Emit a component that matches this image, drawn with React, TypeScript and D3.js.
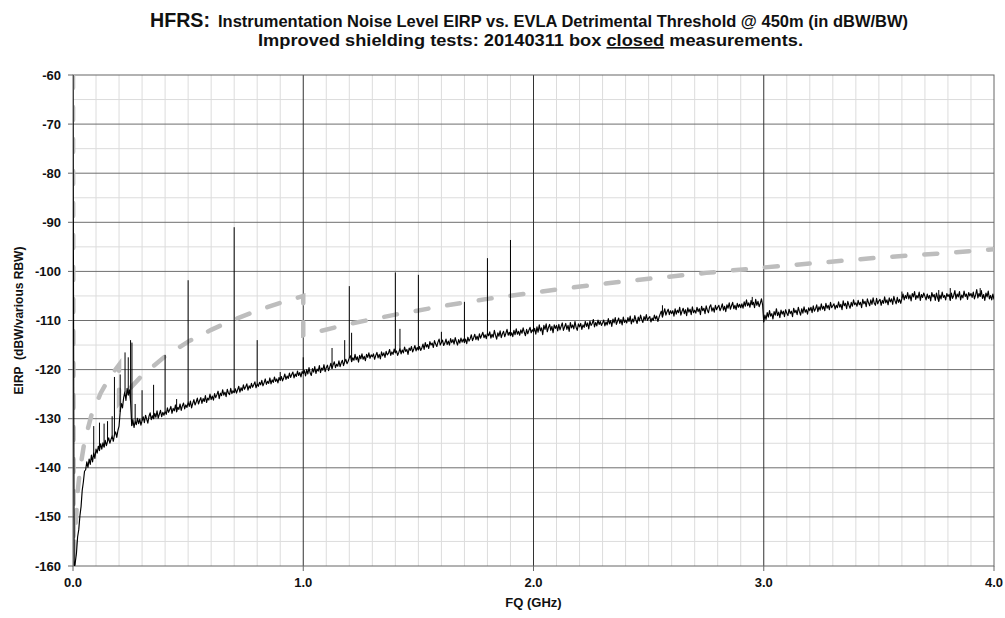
import React from 'react';
import * as d3 from 'd3';

const W = 1005;
const H = 618;

const titleLead = 'HFRS:';
const titleRest = 'Instrumentation Noise Level EIRP vs. EVLA Detrimental Threshold @ 450m (in dBW/BW)';
const subtitlePre = 'Improved shielding tests: 20140311 box ';
const subtitleUnderlined = 'closed';
const subtitlePost = ' measurements.';
const xAxisTitle = 'FQ (GHz)';
const yAxisTitle = 'EIRP  (dBW/various RBW)';

const xTickValues = [0, 1, 2, 3, 4];
const xTickLabels = ['0.0', '1.0', '2.0', '3.0', '4.0'];
const yTickValues = [-60, -70, -80, -90, -100, -110, -120, -130, -140, -150, -160];

// measured noise trace: leading point, then one value every 0.005 GHz from 0.005 to 4.000 GHz
const traceLeadFreqs = [0];
const traceLeadValues = [-60];
const traceStep = 0.005;
const traceValues = [
  -161, -159.2, -157.4, -154.1, -152.6, -149.8, -147.9, -144.6, -142.9, -140.7, -140.4, -138.8, -139.9, -138.2, -139.3, -137.4, -138.8, -136.9, -138.1, -136.2,
  -137.0, -135.6, -136.5, -135.1, -136.2, -134.9, -135.8, -134.4, -135.5, -134.6, -133.9, -135.0, -134.2, -133.5, -134.6, -133.3, -132.7, -133.8, -132.4, -131.5,
  -128.6, -126.9, -127.8, -125.7, -124.6, -126.3, -123.8, -125.2, -124.1, -126.5, -131.4, -130.2, -131.8, -130.5, -131.2, -129.9, -131.0, -130.1, -131.3, -130.4,
  -129.6, -130.8, -129.3, -130.1, -130.9, -129.5, -128.8, -130.2, -129.4, -130.0, -128.9, -129.7, -128.4, -129.9, -129.1, -128.3, -129.6, -128.7, -129.3, -128.5,
  -129.1, -127.8, -128.7, -128.2, -127.5, -128.9, -127.9, -128.4, -127.2, -128.6, -127.7, -128.1, -127.0, -128.3, -127.4, -126.8, -128.0, -127.2, -127.7, -126.6,
  -127.5, -126.4, -127.8, -126.9, -126.1, -127.2, -126.6, -125.8, -127.0, -126.3, -125.7, -126.9, -125.9, -126.5, -125.3, -126.7, -125.8, -126.2, -125.0, -126.1,
  -125.4, -126.2, -124.9, -125.7, -125.1, -124.4, -125.9, -124.8, -125.3, -124.1, -125.2, -124.6, -125.5, -124.0, -124.8, -125.1, -123.8, -124.9, -124.3, -124.7,
  -123.9, -124.8, -124.1, -123.4, -124.6, -123.7, -124.3, -123.1, -124.0, -123.5, -122.9, -124.2, -123.3, -123.8, -122.8, -123.6, -123.1, -122.5, -123.7, -122.9,
  -123.4, -122.6, -123.1, -122.2, -123.3, -122.7, -121.9, -123.0, -122.4, -122.8, -121.7, -122.9, -122.1, -122.6, -121.5, -122.4, -121.9, -122.7, -121.6, -122.2,
  -121.4, -122.3, -121.7, -120.9, -122.0, -121.3, -121.8, -120.7, -121.6, -121.0, -120.5, -121.7, -120.9, -121.4, -120.3, -121.2, -120.6, -121.5, -120.4, -120.8,
  -120.2, -121.3, -120.0, -120.9, -119.6, -120.7, -121.2, -119.8, -120.5, -119.4, -120.8, -119.9, -120.3, -119.2, -120.6, -119.7, -120.1, -119.0, -120.4, -119.6,
  -119.1, -120.2, -119.5, -118.7, -119.8, -119.0, -118.4, -119.6, -118.9, -119.3, -118.2, -119.4, -118.6, -118.1, -119.2, -118.4, -117.9, -118.8, -118.3, -117.6,
  -117.2, -118.4, -117.6, -118.1, -116.9, -118.0, -117.4, -118.5, -117.1, -117.8, -116.8, -117.9, -117.3, -118.2, -116.9, -117.5, -116.6, -117.7, -117.0, -117.4,
  -116.8, -117.9, -117.1, -116.5, -117.6, -116.9, -117.8, -116.4, -117.2, -116.6, -117.5, -116.3, -117.0, -116.7, -115.9, -117.1, -116.4, -116.9, -115.8, -116.6,
  -116.2, -117.1, -116.5, -115.7, -116.8, -116.0, -116.6, -115.4, -116.3, -115.9, -116.9, -115.6, -116.1, -115.3, -116.4, -115.8, -115.1, -116.2, -115.5, -116.0,
  -115.3, -116.1, -115.6, -114.8, -115.9, -114.5, -115.4, -114.9, -115.7, -114.3, -115.0, -114.6, -115.5, -114.1, -114.8, -115.3, -114.4, -113.8, -115.0, -114.5,
  -114.0, -115.1, -114.6, -113.8, -114.9, -114.2, -115.0, -113.7, -114.5, -113.9, -114.8, -113.5, -114.3, -115.0, -113.9, -114.6, -113.6, -114.4, -113.8, -114.5,
  -113.8, -114.7, -113.4, -114.2, -113.7, -112.9, -114.1, -113.5, -112.8, -113.9, -113.2, -114.0, -112.7, -113.6, -113.0, -112.4, -113.5, -112.9, -113.7, -112.6,
  -113.1, -112.3, -113.6, -112.8, -113.4, -112.0, -113.0, -113.8, -112.5, -113.2, -112.1, -113.5, -112.7, -112.2, -113.3, -112.6, -111.8, -113.0, -112.4, -113.1,
  -112.5, -113.3, -112.0, -112.9, -111.7, -112.8, -112.2, -113.0, -111.9, -112.6, -111.5, -112.4, -113.1, -111.8, -112.7, -112.0, -111.4, -112.5, -111.9, -112.3,
  -111.6, -112.8, -111.3, -112.4, -110.9, -112.1, -111.5, -112.9, -111.0, -111.8, -110.7, -112.3, -111.4, -110.8, -112.0, -111.2, -112.5, -110.9, -111.6, -111.0,
  -112.1, -110.8, -111.9, -111.2, -110.5, -112.0, -111.3, -110.6, -111.8, -111.0, -112.2, -110.4, -111.5, -110.9, -111.7, -110.2, -111.4, -112.0, -110.7, -111.3,
  -110.6, -111.8, -110.9, -111.4, -110.2, -111.2, -110.5, -111.7, -110.1, -111.0, -110.6, -109.8, -111.3, -110.4, -111.1, -109.9, -110.8, -110.2, -111.0, -110.5,
  -109.9, -111.1, -110.3, -110.9, -109.6, -110.7, -110.0, -111.2, -109.7, -110.5, -109.4, -110.8, -110.1, -109.5, -110.6, -109.8, -110.9, -109.3, -110.4, -109.9,
  -110.5, -109.4, -110.2, -109.1, -110.7, -109.7, -110.3, -109.0, -109.9, -110.6, -109.3, -110.1, -108.9, -109.8, -110.4, -109.2, -109.9, -108.8, -110.0, -109.5,
  -109.2, -110.3, -109.5, -110.0, -108.9, -109.7, -109.1, -110.2, -109.4, -108.7, -108.1, -109.3, -108.5, -107.6, -108.9, -108.2, -107.7, -108.8, -108.0, -108.6,
  -108.0, -109.1, -107.6, -108.7, -107.9, -108.4, -107.3, -108.9, -108.1, -107.5, -108.6, -107.8, -109.0, -107.4, -108.3, -107.7, -108.8, -107.2, -108.4, -107.9,
  -108.5, -107.3, -108.2, -107.6, -108.8, -107.1, -108.0, -107.5, -108.6, -107.0, -107.9, -108.4, -107.2, -106.8, -108.1, -107.4, -108.3, -106.9, -107.8, -107.3,
  -106.9, -108.0, -107.4, -106.6, -107.9, -107.1, -108.2, -106.8, -107.5, -106.4, -107.7, -107.0, -106.3, -107.6, -106.9, -107.8, -106.5, -107.3, -106.7, -107.4,
  -106.6, -107.5, -106.2, -107.1, -105.8, -107.0, -106.4, -107.3, -105.9, -106.8, -106.3, -107.4, -105.7, -106.9, -106.1, -107.2, -106.5, -105.6, -106.8, -110.3,
  -108.9, -109.8, -108.4, -109.3, -108.0, -109.1, -108.6, -109.7, -108.2, -108.9, -107.6, -109.0, -108.3, -109.4, -107.9, -108.7, -108.1, -109.2, -107.8, -108.5,
  -109.0, -107.7, -108.6, -108.1, -109.2, -107.5, -108.4, -107.9, -108.8, -107.3, -108.2, -108.9, -107.6, -108.5, -107.2, -108.3, -107.8, -108.7, -107.4, -108.0,
  -107.3, -108.4, -107.0, -108.1, -107.6, -106.8, -108.2, -107.2, -107.9, -106.6, -107.7, -107.1, -108.0, -106.5, -107.5, -106.9, -107.8, -106.3, -107.4, -107.0,
  -106.6, -107.7, -106.9, -107.4, -106.2, -107.3, -106.7, -107.8, -106.0, -107.0, -106.5, -107.6, -106.1, -106.9, -107.5, -106.3, -107.1, -105.8, -106.8, -106.4,
  -107.1, -105.9, -106.8, -106.3, -107.4, -105.7, -106.6, -106.1, -107.2, -105.6, -106.4, -107.0, -105.8, -106.7, -105.4, -106.5, -106.9, -105.5, -106.6, -106.0,
  -105.7, -106.9, -105.9, -106.5, -105.2, -106.4, -105.8, -106.8, -105.4, -106.2, -105.6, -106.7, -105.1, -106.0, -106.6, -105.3, -106.3, -105.7, -106.5, -105.5,
  -104.6, -105.8, -104.9, -105.5, -104.3, -105.6, -104.8, -106.0, -104.5, -105.2, -104.1, -105.7, -104.9, -105.4, -104.2, -105.9, -104.7, -105.3, -104.4, -105.1,
  -105.8, -104.6, -105.5, -104.9, -106.0, -104.3, -105.2, -104.7, -105.9, -104.4, -105.4, -106.1, -104.8, -105.6, -104.2, -105.3, -104.9, -105.8, -104.5, -105.1,
  -104.7, -105.9, -104.4, -105.5, -104.9, -103.9, -105.6, -104.6, -105.2, -104.1, -105.8, -104.8, -105.4, -104.0, -105.1, -104.6, -105.7, -104.3, -105.0, -104.5,
  -105.3, -104.2, -105.6, -104.8, -103.7, -105.4, -104.5, -105.1, -103.9, -105.5, -104.7, -105.9, -104.4, -105.2, -104.0, -105.6, -104.9, -105.8, -104.6, -105.7,
];

// narrow spurious lines in the measurement (GHz, peak dBW)
const spikeFreqs = [0.09, 0.115, 0.135, 0.15, 0.17, 0.18, 0.205, 0.226, 0.24, 0.25, 0.256, 0.27, 0.30, 0.35, 0.40, 0.45, 0.50, 0.70, 0.80, 0.90, 1.00, 1.125, 1.18, 1.20, 1.21, 1.40, 1.42, 1.50, 1.60, 1.70, 1.80, 1.90, 2.00, 2.56, 2.95, 3.60, 3.76, 3.81, 3.94];
const spikePeaks = [-131.5, -130.8, -131, -130.5, -129.5, -121.5, -121, -116.5, -117.5, -114, -114.5, -127, -124.2, -123.1, -117, -126, -101.8, -91, -114, -120.5, -117.5, -115.6, -114, -103, -112.5, -100.2, -111.7, -100.7, -112.3, -106.2, -97.3, -93.6, -100, -106.9, -105.2, -104.1, -103.8, -103.4, -103.4];

// EVLA detrimental threshold (dashed)
const threshFreqs = [0, 0.003, 0.005, 0.01, 0.02, 0.03, 0.05, 0.08, 0.12, 0.16, 0.2, 0.2, 0.25, 0.3, 0.4, 0.5, 0.6, 0.7, 0.8, 0.9, 1.0, 1.0, 1.2, 1.4, 1.6, 1.8, 2.0, 2.25, 2.5, 2.75, 3.0, 3.25, 3.5, 3.75, 4.0];
const threshValues = [-60, -161, -159, -152.8, -145, -140.5, -134.6, -129.3, -124.8, -121.5, -119, -126.7, -123.7, -121.2, -117.3, -114.3, -111.9, -109.8, -108, -106.4, -105, -113, -110.7, -108.8, -107.1, -105.6, -104.3, -102.8, -101.5, -100.3, -99.2, -98.2, -97.2, -96.4, -95.5];

const PL = 73, PR = 994, PT = 75, PB = 566;

export default function App() {
  const x = d3.scaleLinear().domain([0, 4]).range([PL, PR]);
  const y = d3.scaleLinear().domain([-160, -60]).range([PB, PT]);

  const tracePts: [number, number][] = [
    ...traceLeadFreqs.map((f, i) => [f, traceLeadValues[i]] as [number, number]),
    ...traceValues.map((v, i) => [(i + 1) * traceStep, v] as [number, number]),
  ];
  const threshPts: [number, number][] = threshFreqs.map((f, i) => [f, threshValues[i]]);

  const line = d3.line<[number, number]>().x((d) => x(d[0])).y((d) => y(d[1]));

  const minorX = d3.range(1, 40).filter((i) => i % 10 !== 0).map((i) => i / 10);
  const majorX = [1, 2, 3];
  const minorY = d3.range(-155, -60, 10);
  const majorY = d3.range(-150, -60, 10);

  const baseAt = (f: number) => {
    const idx = Math.max(0, Math.min(traceValues.length - 1, Math.round(f / traceStep) - 1));
    return traceValues[idx];
  };

  const font = '"Liberation Sans", Arial, sans-serif';
  const titleFont = '"Liberation Sans Narrow", "Liberation Sans", Arial, sans-serif';

  return (
    <svg width={W} height={H} style={{ position: 'absolute', left: 0, top: 0, background: '#fff' }} fontFamily={font}>
      <defs>
        <clipPath id="plotClip">
          <rect x={PL} y={PT} width={PR - PL} height={PB - PT} />
        </clipPath>
      </defs>
      <rect x={0} y={0} width={W} height={H} fill="#fff" />
      {minorX.map((f) => (
        <line key={'mx' + f} x1={x(f)} x2={x(f)} y1={PT} y2={PB} stroke="#dcdcdc" strokeWidth={1} />
      ))}
      {minorY.map((v) => (
        <line key={'my' + v} x1={PL} x2={PR} y1={y(v)} y2={y(v)} stroke="#dcdcdc" strokeWidth={1} />
      ))}
      {majorY.map((v) => (
        <line key={'My' + v} x1={PL} x2={PR} y1={y(v)} y2={y(v)} stroke="#6e6e6e" strokeWidth={1} />
      ))}
      {majorX.map((f) => (
        <line key={'Mx' + f} x1={x(f)} x2={x(f)} y1={PT} y2={PB} stroke="#333" strokeWidth={1} />
      ))}
      <rect x={PL} y={PT} width={PR - PL} height={PB - PT} fill="none" stroke="#666" strokeWidth={1} />
      <g clipPath="url(#plotClip)">
        <path d={line(threshPts) || ''} fill="none" stroke="#bdbdbd" strokeWidth={4.5} strokeDasharray="13 19" strokeLinecap="round" />
        <path d={line(tracePts) || ''} fill="none" stroke="#000" strokeWidth={1.15} strokeLinejoin="round" />
        {spikeFreqs.map((f, i) => (
          <line key={'s' + i} x1={x(f)} x2={x(f)} y1={y(baseAt(f))} y2={y(spikePeaks[i])} stroke="#000" strokeWidth={1} />
        ))}
      </g>
      {yTickValues.map((v) => (
        <g key={'yt' + v}>
          <line x1={PL - 5} x2={PL} y1={y(v)} y2={y(v)} stroke="#666" />
          <text x={PL - 12} y={y(v)} dy="0.35em" textAnchor="end" fontSize={13} fontWeight="bold" fill="#111">{v}</text>
        </g>
      ))}
      {xTickValues.map((f, i) => (
        <g key={'xt' + f}>
          <line x1={x(f)} x2={x(f)} y1={PB} y2={PB + 5} stroke="#666" />
          <text x={x(f)} y={PB + 21} textAnchor="middle" fontSize={13} fontWeight="bold" fill="#111">{xTickLabels[i]}</text>
        </g>
      ))}
      <text x={(PL + PR) / 2} y={607} textAnchor="middle" fontSize={13} fontWeight="bold" fill="#111">{xAxisTitle}</text>
      <text transform={`translate(23,${(PT + PB) / 2}) rotate(-90)`} textAnchor="middle" fontSize={12} fontWeight="bold" fill="#111" style={{ whiteSpace: 'pre' }}>{yAxisTitle}</text>
      <text x={150} y={27} fontFamily={titleFont} fontWeight="bold" fontSize={21} fill="#111" textLength={60} lengthAdjust="spacingAndGlyphs">{titleLead}</text>
      <text x={218} y={27} fontFamily={titleFont} fontWeight="bold" fontSize={16.5} fill="#111" textLength={690} lengthAdjust="spacingAndGlyphs">{titleRest}</text>
      <text x={258} y={46} fontFamily={titleFont} fontWeight="bold" fontSize={16.5} fill="#111" textLength={545} lengthAdjust="spacingAndGlyphs">
        <tspan>{subtitlePre}</tspan>
        <tspan textDecoration="underline" style={{ textDecoration: 'underline' }}>{subtitleUnderlined}</tspan>
        <tspan>{subtitlePost}</tspan>
      </text>
    </svg>
  );
}
